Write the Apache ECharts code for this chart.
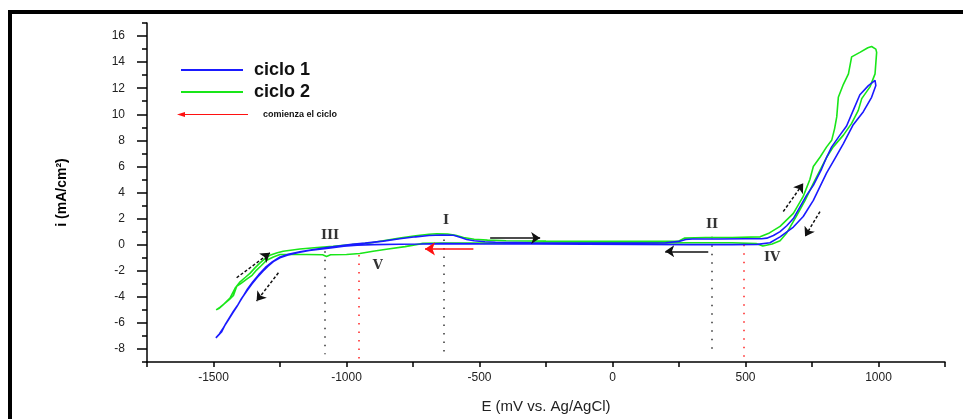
<!DOCTYPE html>
<html><head><meta charset="utf-8">
<script src="https://cdn.jsdelivr.net/npm/echarts@6/dist/echarts.min.js"></script>
<style>html,body{margin:0;padding:0;background:#fff}#c{width:963px;height:419px}</style>
</head><body><div id="c"></div>
<script>
// ciclo 1 (blue): starts near -640 mV, sweeps negative, returns to +1000, back
const blueE = [-640,-720,-800,-900,-960,-1010,-1060,-1100,-1140,-1180,-1220,-1250,-1275,-1295,-1315,-1335,-1355,-1375,-1395,-1412,-1428,-1445,-1462,-1478,-1491,
  -1484,-1470,-1455,-1440,-1425,-1408,-1390,-1372,-1352,-1330,-1305,-1278,-1250,-1215,-1175,-1130,-1080,-1030,-980,-930,-862,-800,-740,-690,-640,-598,-570,-548,-520,-480,-440,-300,-150,0,100,200,250,275,300,400,500,560,
  580,605,630,655,680,705,730,755,786,805,824,855,880,905,930,962,987,
  990,974,943,905,868,836,805,780,755,717,680,630,592,545,
  450,300,100,-100,-300,-500,-640];
const blueI = [0.08,0.05,0.03,0.0,-0.05,-0.12,-0.25,-0.35,-0.45,-0.6,-0.8,-1.0,-1.3,-1.65,-2.05,-2.5,-3.0,-3.55,-4.15,-4.75,-5.25,-5.8,-6.35,-6.85,-7.15,
  -7.05,-6.7,-6.1,-5.6,-5.1,-4.6,-4.0,-3.4,-2.85,-2.3,-1.75,-1.3,-0.95,-0.72,-0.55,-0.4,-0.25,-0.1,0.02,0.12,0.27,0.45,0.6,0.7,0.74,0.72,0.55,0.4,0.3,0.22,0.18,0.15,0.13,0.12,0.13,0.15,0.25,0.4,0.43,0.43,0.45,0.45,
  0.5,0.7,1.0,1.45,2.0,2.9,3.8,4.55,5.8,6.7,7.5,8.4,9.1,10.3,11.5,12.2,12.6,
  12.2,11.3,10.2,9.2,7.75,6.6,5.5,4.45,3.4,2.16,1.35,0.6,0.15,0.02,
  0.0,0.0,0.02,0.03,0.05,0.06,0.08];
// ciclo 2 (green)
const greenE = [-640,-712,-780,-850,-900,-950,-1000,-1060,-1075,-1090,-1150,-1200,-1250,-1275,-1300,-1320,-1338,-1355,-1375,-1395,-1413,-1425,-1440,-1460,-1475,-1490,
  -1480,-1463,-1438,-1419,-1400,-1380,-1363,-1345,-1325,-1305,-1288,-1260,-1238,-1175,-1110,-1050,-980,-912,-862,-800,-740,-690,-661,-620,-590,-560,-520,-470,-400,-250,0,150,250,270,350,450,555,
  590,630,680,717,742,755,780,805,824,835,843,849,868,887,899,930,960,974,990,993,
  987,968,937,924,899,868,830,805,780,755,724,692,655,630,600,565,540,
  450,300,100,-100,-300,-500,-640];
const greenI = [0.12,0.1,-0.15,-0.35,-0.5,-0.68,-0.76,-0.78,-0.9,-0.78,-0.76,-0.76,-0.76,-0.95,-1.2,-1.6,-1.95,-2.35,-2.65,-2.95,-3.2,-3.9,-4.2,-4.55,-4.8,-5.0,
  -4.9,-4.6,-4.1,-3.35,-2.85,-2.5,-2.2,-1.8,-1.4,-1.05,-0.82,-0.62,-0.5,-0.33,-0.22,-0.13,0.0,0.13,0.3,0.5,0.68,0.8,0.84,0.82,0.72,0.55,0.42,0.35,0.3,0.27,0.25,0.25,0.28,0.5,0.55,0.55,0.6,
  0.9,1.4,2.4,3.7,5.0,6.0,6.7,7.5,8.0,8.9,9.8,11.3,12.3,13.1,14.4,14.75,15.1,15.2,15.0,14.75,
  13.1,12.1,11.2,10.3,9.3,8.4,7.5,6.7,5.7,4.7,3.4,2.2,0.9,0.3,0.05,-0.1,0.08,
  0.15,0.15,0.12,0.12,0.12,0.12,0.12];

// axis ticks
const xLabelTicks = [-1500,-1000,-500,0,500,1000];
const yLabelTicks = [-8,-6,-4,-2,0,2,4,6,8,10,12,14,16];
const yMinorTicks = [-9,-7,-5,-3,-1,1,3,5,7,9,11,13,15,17];

// dotted guide lines
const blackGuideE = [-1080,-636,373];
const blackGuideTop = [-0.5,0.4,0.6];
const blackGuideBottom = [-8.4,-8.4,-8.4];
const redGuideE = [-953,492];
const redGuideTop = [-0.8,0.0];
const redGuideBottom = [-8.9,-8.9];

// Roman numeral labels
const romanText = ['I','II','III','IV','V'];
const romanE = [-626,374,-1062,600,-882];
const romanI = [1.83,1.53,0.69,-1.0,-1.6];

// sweep direction arrows
const arrowFromE = [-1413,-1256,-460,360,642,780];
const arrowFromI = [-2.54,-2.16,0.51,-0.51,2.54,2.54];
const arrowToE = [-1288,-1338,-272,198,717,724];
const arrowToI = [-0.63,-4.33,0.51,-0.51,4.7,0.63];
const arrowDashed = [true,true,false,false,true,true];

// start-of-cycle arrow
const startFromE = -523, startToE = -705, startI = -0.33;

const zip = (a,b)=>a.map((v,k)=>[v,b[k]]);
const axisFont = {fontFamily:'Liberation Sans', fontSize:12, color:'#222'};

const chart = echarts.init(document.getElementById('c'), null, {renderer:'canvas'});
chart.setOption({
  animation:false,
  backgroundColor:'#fff',
  grid:{left:147,right:18,top:23,bottom:57,containLabel:false},
  legend:[
    {data:['ciclo 1'],left:181,top:61,padding:0,icon:'rect',itemWidth:62,itemHeight:2,
     textStyle:{fontFamily:'Liberation Sans',fontWeight:'bold',fontSize:18,color:'#111',padding:[0,0,0,6]}},
    {data:['ciclo 2'],left:181,top:83,padding:0,icon:'rect',itemWidth:62,itemHeight:2,
     textStyle:{fontFamily:'Liberation Sans',fontWeight:'bold',fontSize:18,color:'#111',padding:[0,0,0,6]}},
    {data:['comienza el ciclo'],left:177,top:110,padding:0,
     icon:'path://M0,5 L8,2.5 L8,4.4 L71,4.4 L71,5.6 L8,5.6 L8,7.5 Z',itemWidth:71,itemHeight:6,
     itemStyle:{borderWidth:0},lineStyle:{width:0},
     textStyle:{fontFamily:'Liberation Sans',fontWeight:'bold',fontSize:9,color:'#111',padding:[0,0,0,10]}}
  ],
  xAxis:{type:'value',min:-1750,max:1250,interval:250,
    name:'E (mV vs. Ag/AgCl)',nameLocation:'middle',nameGap:37,
    nameTextStyle:{fontFamily:'Liberation Sans',fontSize:15,color:'#222'},
    axisLine:{onZero:false,lineStyle:{color:'#000',width:1.5}},
    axisTick:{length:5,lineStyle:{color:'#000',width:1.5}},
    axisLabel:Object.assign({margin:10,formatter:v=>xLabelTicks.includes(v)?String(v):''},axisFont),
    splitLine:{show:false}},
  yAxis:[
    {type:'value',min:-9,max:17,position:'left',
     name:'i (mA/cm²)',nameLocation:'middle',nameGap:78,nameRotate:90,
     nameTextStyle:{fontFamily:'Liberation Sans',fontWeight:'bold',fontSize:14,color:'#000'},
     axisLine:{onZero:false,lineStyle:{color:'#000',width:1.5}},
     axisTick:{length:10,customValues:yLabelTicks,lineStyle:{color:'#000',width:1.5}},
     axisLabel:Object.assign({margin:22,customValues:yLabelTicks},axisFont),
     splitLine:{show:false}},
    {type:'value',min:-9,max:17,position:'left',offset:0,
     axisLine:{show:false,onZero:false},
     axisTick:{length:5,customValues:yMinorTicks,lineStyle:{color:'#000',width:1.5}},
     axisLabel:{show:false},splitLine:{show:false}}
  ],
  series:[
    {name:'ciclo 2',type:'line',data:zip(greenE,greenI),symbol:'none',color:'#19e619',
     lineStyle:{color:'#19e619',width:1.6},z:3},
    {name:'ciclo 1',type:'line',data:zip(blueE,blueI),symbol:'none',color:'#1a1aff',
     lineStyle:{color:'#1a1aff',width:1.6},z:4},
    {name:'guides',type:'lines',coordinateSystem:'cartesian2d',z:2,
     data:blackGuideE.map((e,k)=>({coords:[[e,blackGuideTop[k]],[e,blackGuideBottom[k]]]})),
     lineStyle:{color:'#333',type:[1.5,7],width:1.5,opacity:1},symbol:'none'},
    {name:'redguides',type:'lines',coordinateSystem:'cartesian2d',z:2,
     data:redGuideE.map((e,k)=>({coords:[[e,redGuideTop[k]],[e,redGuideBottom[k]]]})),
     lineStyle:{color:'#ff2020',type:[1.5,7],width:1.5,opacity:1},symbol:'none'},
    {name:'arrows',type:'lines',coordinateSystem:'cartesian2d',z:5,
     data:arrowFromE.map((e,k)=>({coords:[[e,arrowFromI[k]],[arrowToE[k],arrowToI[k]]],
       lineStyle:{type:arrowDashed[k]?[3,2]:'solid'}})),
     lineStyle:{color:'#111',width:1.5,opacity:1},symbol:['none','arrow'],symbolSize:[0,9]},
    {name:'comienza el ciclo',type:'lines',coordinateSystem:'cartesian2d',z:5,color:'#ff1010',
     itemStyle:{color:'#ff1010'},
     data:[{coords:[[startFromE,startI],[startToE,startI]]}],
     lineStyle:{color:'#ff1010',width:1.5,opacity:1},symbol:['none','arrow'],symbolSize:[0,10]},
    {name:'roman',type:'scatter',z:6,symbolSize:0,
     data:romanE.map((e,k)=>({value:[e,romanI[k]],name:romanText[k]})),
     label:{show:true,position:'inside',formatter:p=>p.name,
       fontFamily:'DejaVu Serif',fontWeight:'bold',fontSize:13,color:'#000'}}
  ],
  graphic:[
    {type:'rect',shape:{x:10,y:12,width:1000,height:500},
     style:{fill:'none',stroke:'#000',lineWidth:4},z:100,silent:true}
  ]
});
</script></body></html>
